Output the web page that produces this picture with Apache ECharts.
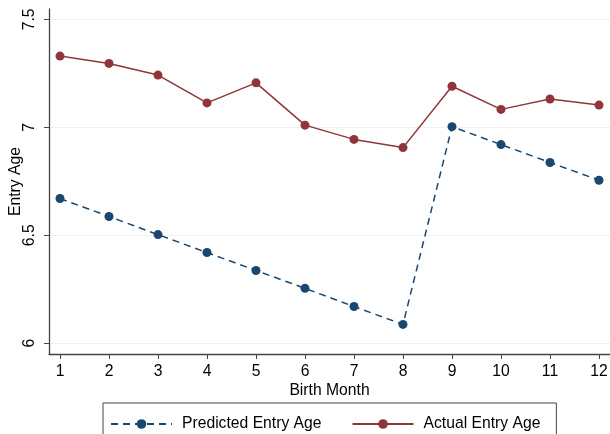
<!DOCTYPE html>
<html>
<head>
<meta charset="utf-8">
<script src="https://cdn.jsdelivr.net/npm/echarts@6/dist/echarts.min.js"></script>
<style>
  html, body { margin: 0; padding: 0; background: #ffffff; }
  #chart { width: 610px; height: 434px; }
</style>
</head>
<body>
<div id="chart"></div>
<script>
// Birth month on the horizontal axis
const months = [1, 2, 3, 4, 5, 6, 7, 8, 9, 10, 11, 12];
// Mean school entry age by birth month
const predictedAge = [6.670, 6.587, 6.503, 6.420, 6.337, 6.254, 6.170, 6.087, 7.003, 6.920, 6.837, 6.755];
const actualAge = [7.330, 7.296, 7.242, 7.113, 7.206, 7.010, 6.944, 6.906, 7.190, 7.083, 7.131, 7.103];
// Tick labels on the vertical axis
const ageTicks = [6, 6.5, 7, 7.5];

const FONT = 'Liberation Sans';
const FS = 15.7;
const NAVY = '#1A476F';
const MAROON = '#90353B';

const chart = echarts.init(document.getElementById('chart'), null, { renderer: 'canvas' });

chart.setOption({
  backgroundColor: '#ffffff',
  animation: false,
  textStyle: { fontFamily: FONT },
  grid: { left: 49, right: 0, top: 9, bottom: 80, containLabel: false, outerBoundsMode: 'none' },
  xAxis: {
    type: 'value',
    min: 0.7755,
    max: 12.2245,
    name: 'Birth Month',
    nameLocation: 'middle',
    nameGap: 29,
    nameMoveOverlap: false,
    nameTextStyle: { fontSize: FS, color: '#000', fontFamily: FONT },
    axisLine: { show: true, onZero: false, lineStyle: { color: '#444', width: 1.3 } },
    axisTick: { show: true, length: 5, customValues: months, lineStyle: { color: '#444', width: 1 } },
    axisLabel: { customValues: months, margin: 10, fontSize: FS, color: '#000', fontFamily: FONT },
    splitLine: { show: false }
  },
  yAxis: {
    type: 'value',
    min: 5.95,
    max: 7.548,
    name: 'Entry Age',
    nameLocation: 'middle',
    nameGap: 25,
    nameRotate: 90,
    nameMoveOverlap: false,
    nameTextStyle: { fontSize: FS, color: '#000', fontFamily: FONT },
    axisLine: { show: true, onZero: false, lineStyle: { color: '#444', width: 1.3 } },
    axisTick: { show: true, length: 5, customValues: ageTicks, lineStyle: { color: '#444', width: 1 } },
    axisLabel: {
      customValues: ageTicks,
      rotate: 90,
      margin: 11,
      fontSize: FS,
      color: '#000',
      fontFamily: FONT,
      formatter: v => String(v)
    },
    splitLine: { show: true, lineStyle: { color: '#EAF2F3', width: 1.2 } }
  },
  legend: {
    left: 103,
    top: 403,
    padding: [13, 16, 13, 7],
    borderColor: '#444',
    borderWidth: 1,
    itemWidth: 61,
    itemHeight: 12,
    itemGap: 30,
    textStyle: { fontSize: FS, color: '#000', fontFamily: FONT, padding: [0, 0, 0, 5] },
    data: ['Predicted Entry Age', 'Actual Entry Age']
  },
  series: [
    {
      name: 'Predicted Entry Age',
      type: 'line',
      data: months.map((m, i) => [m, predictedAge[i]]),
      symbol: 'circle',
      symbolSize: 9,
      itemStyle: { color: NAVY },
      lineStyle: { color: NAVY, width: 1.5, type: [7, 5] }
    },
    {
      name: 'Actual Entry Age',
      type: 'line',
      data: months.map((m, i) => [m, actualAge[i]]),
      symbol: 'circle',
      symbolSize: 9,
      itemStyle: { color: MAROON },
      lineStyle: { color: MAROON, width: 1.5 }
    }
  ]
});
</script>
</body>
</html>
